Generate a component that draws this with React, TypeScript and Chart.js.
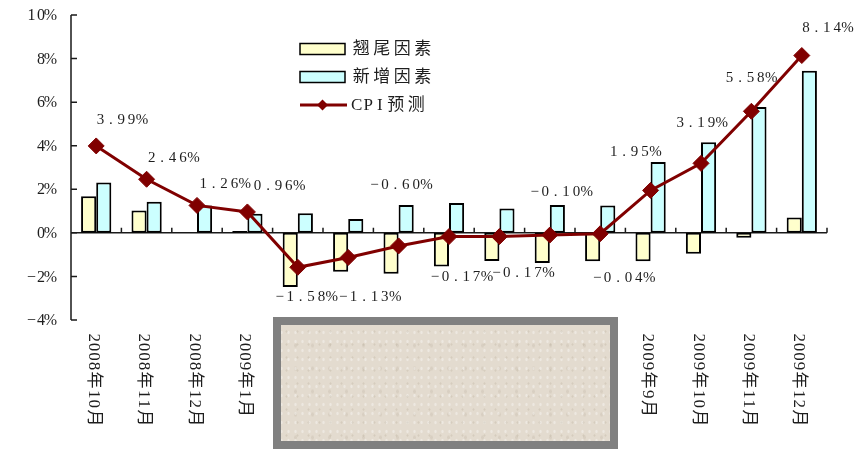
import React, { useEffect, useRef } from 'react';
import { Chart, registerables } from 'chart.js';

Chart.register(...registerables);

// ---- data ----
const categories = [
  '2008年10月', '2008年11月', '2008年12月', '2009年1月', '2009年2月',
  '2009年3月', '2009年4月', '2009年5月', '2009年6月', '2009年7月',
  '2009年8月', '2009年9月', '2009年10月', '2009年11月', '2009年12月',
];
const tailFactor = [1.68, 1.03, 0, 0.08, -2.49, -1.78, -1.88, -1.54, -1.29, -1.38, -1.30, -1.30, -0.96, -0.22, 0.70];
const newFactor = [2.31, 1.43, 1.26, 0.88, 0.90, 0.64, 1.28, 1.37, 1.12, 1.28, 1.26, 3.25, 4.16, 5.78, 7.44];
const cpiForecast = [3.99, 2.46, 1.26, 0.96, -1.58, -1.13, -0.60, -0.17, -0.17, -0.10, -0.04, 1.95, 3.19, 5.58, 8.14];
const seriesNames = ['翘尾因素', '新增因素', 'CPI预测'];
const yTickMin = -4;
const yTickMax = 10;
const yTickStep = 2;

// label placement (style, not data): offset of each CPI label from its point
const LABEL_OFFSETS: [number, number][] = [
  [25, -26], [26, -21], [27, -21], [31, -26], [8, 30],
  [21, 40], [2, -61], [12, 41], [23, 37], [11, -43],
  [23, 44], [-16, -38], [0, -40], [-1, -33], [25, -27],
];

const FONT = '"Liberation Serif", "Noto Sans CJK SC", serif';
const TEXT = '#1e1e1e';
const LINE_COLOR = '#800000';
const YELLOW = '#FFFFCC';
const CYAN = '#CCFFFF';

function isWide(ch: string) {
  return (ch.codePointAt(0) || 0) >= 0x2e80;
}

function drawCells(ctx: CanvasRenderingContext2D, text: string, x: number, y: number, half: number, full: number, align: 'left' | 'center' | 'right') {
  const chars = Array.from(text);
  const total = chars.reduce((s, c) => s + (isWide(c) ? full : half), 0);
  let start = align === 'center' ? x - total / 2 : align === 'right' ? x - total : x;
  ctx.textAlign = 'center';
  for (const c of chars) {
    const w = isWide(c) ? full : half;
    ctx.fillText(c, start + w / 2, y);
    start += w;
  }
}

const fmtPct = (v: number, digits: number) => (v < 0 ? '−' : '') + Math.abs(v).toFixed(digits) + '%';

const decorPlugin = {
  id: 'decor',
  beforeDatasetsDraw(chart: any) {
    const { ctx, chartArea: ca, scales } = chart;
    const x = scales.x;
    const y = scales.y;
    ctx.save();
    ctx.strokeStyle = '#1a1a1a';
    ctx.lineWidth = 1.5;
    // y axis + ticks
    ctx.beginPath();
    ctx.moveTo(ca.left, y.getPixelForValue(y.max));
    ctx.lineTo(ca.left, y.getPixelForValue(y.min));
    y.ticks.forEach((t: any) => {
      const py = y.getPixelForValue(t.value);
      ctx.moveTo(ca.left, py);
      ctx.lineTo(ca.left + 6, py);
    });
    ctx.stroke();
    // y labels
    ctx.fillStyle = TEXT;
    ctx.font = `16px ${FONT}`;
    ctx.textBaseline = 'middle';
    y.ticks.forEach((t: any) => {
      const py = y.getPixelForValue(t.value);
      drawCells(ctx, fmtPct(t.value, 0), ca.left - 16, py + 1, 9.4, 18.8, 'right');
    });
    // x axis at zero + category ticks
    const y0 = y.getPixelForValue(0);
    const n = categories.length;
    const step = x.getPixelForValue(1) - x.getPixelForValue(0);
    ctx.beginPath();
    ctx.moveTo(ca.left, y0);
    ctx.lineTo(ca.right, y0);
    for (let i = 1; i <= n; i++) {
      const bx = x.getPixelForValue(i) - step / 2;
      ctx.moveTo(bx, y0);
      ctx.lineTo(bx, y0 - 5);
    }
    ctx.stroke();
    // x labels, rotated clockwise
    ctx.font = `17px ${FONT}`;
    ctx.textBaseline = 'middle';
    categories.forEach((c, i) => {
      const px = x.getPixelForValue(i);
      ctx.save();
      ctx.translate(px - 3, ca.bottom + 13);
      ctx.rotate(Math.PI / 2);
      drawCells(ctx, c, 0, 0, 9.4, 19, 'left');
      ctx.restore();
    });
    ctx.restore();
  },
  afterDatasetsDraw(chart: any) {
    const { ctx } = chart;
    const meta = chart.getDatasetMeta(0);
    ctx.save();
    ctx.fillStyle = TEXT;
    ctx.font = `15px ${FONT}`;
    ctx.textBaseline = 'middle';
    meta.data.forEach((pt: any, i: number) => {
      const [dx, dy] = LABEL_OFFSETS[i] || [0, -20];
      drawCells(ctx, fmtPct(cpiForecast[i], 2), pt.x + dx, pt.y + dy, 10.4, 20.8, 'center');
    });

    // legend
    const lx = 300;
    const lw = 45;
    const rows = [49, 77, 105];
    const fills = [YELLOW, CYAN];
    ctx.lineWidth = 1.5;
    ctx.strokeStyle = '#000';
    for (let k = 0; k < 2; k++) {
      ctx.fillStyle = fills[k];
      ctx.fillRect(lx, rows[k] - 5.5, lw, 11);
      ctx.strokeRect(lx, rows[k] - 5.5, lw, 11);
    }
    ctx.strokeStyle = LINE_COLOR;
    ctx.lineWidth = 3;
    ctx.beginPath();
    ctx.moveTo(lx, rows[2]);
    ctx.lineTo(lx + lw + 2, rows[2]);
    ctx.stroke();
    ctx.fillStyle = LINE_COLOR;
    const cx = lx + lw / 2;
    ctx.beginPath();
    ctx.moveTo(cx - 5.5, rows[2]);
    ctx.lineTo(cx, rows[2] - 5.5);
    ctx.lineTo(cx + 5.5, rows[2]);
    ctx.lineTo(cx, rows[2] + 5.5);
    ctx.closePath();
    ctx.fill();
    ctx.fillStyle = TEXT;
    ctx.font = `17px ${FONT}`;
    ctx.textBaseline = 'middle';
    [0, 1, 2].forEach((k, r) => {
      drawCells(ctx, seriesNames[k], 351, rows[r] + 1, 11.5, 20.5, 'left');
    });
    ctx.restore();
  },
};

export default function App() {
  const ref = useRef<HTMLCanvasElement | null>(null);
  useEffect(() => {
    if (!ref.current) return;
    const chart = new Chart(ref.current, {
      type: 'bar',
      data: {
        labels: categories,
        datasets: [
          {
            type: 'line',
            label: seriesNames[2],
            data: cpiForecast,
            borderColor: LINE_COLOR,
            backgroundColor: LINE_COLOR,
            borderWidth: 3,
            pointStyle: 'rectRot',
            pointRadius: 8,
            pointBorderWidth: 1,
            pointBackgroundColor: LINE_COLOR,
            pointBorderColor: LINE_COLOR,
            tension: 0,
            order: 0,
          } as any,
          {
            type: 'bar',
            label: seriesNames[0],
            data: tailFactor,
            backgroundColor: YELLOW,
            borderColor: '#000',
            borderWidth: 2,
            borderSkipped: false,
            categoryPercentage: 0.6,
            barPercentage: 1,
            order: 1,
          } as any,
          {
            type: 'bar',
            label: seriesNames[1],
            data: newFactor,
            backgroundColor: CYAN,
            borderColor: '#000',
            borderWidth: 2,
            borderSkipped: false,
            categoryPercentage: 0.6,
            barPercentage: 1,
            order: 1,
          } as any,
        ],
      },
      options: {
        animation: false,
        responsive: false,
        events: [],
        layout: { padding: { left: 71, right: 36, top: 15, bottom: 134 } },
        plugins: { legend: { display: false }, tooltip: { enabled: false } },
        scales: {
          x: { display: false, offset: true },
          y: { display: false, min: yTickMin, max: yTickMax, ticks: { stepSize: yTickStep } },
        },
      },
      plugins: [decorPlugin],
    });
    return () => chart.destroy();
  }, []);

  return (
    <div style={{ position: 'fixed', left: 0, top: 0, width: 863, height: 454, background: '#fff', overflow: 'hidden' }}>
      <canvas ref={ref} width={863} height={454} style={{ display: 'block', width: 863, height: 454 }} />
      <div
        style={{
          position: 'absolute',
          left: 273,
          top: 317,
          width: 345,
          height: 132,
          boxSizing: 'border-box',
          border: '8px solid #808080',
          backgroundColor: '#e3dbcf',
          backgroundImage:
            'radial-gradient(rgba(150,135,110,0.18) 0.6px, transparent 1.4px), radial-gradient(rgba(255,255,255,0.35) 0.8px, transparent 1.6px), radial-gradient(rgba(140,125,100,0.12) 1px, transparent 2px)',
          backgroundSize: '11px 13px, 7px 9px, 17px 23px',
          backgroundPosition: '0 0, 4px 3px, 6px 9px',
        }}
      />
    </div>
  );
}
